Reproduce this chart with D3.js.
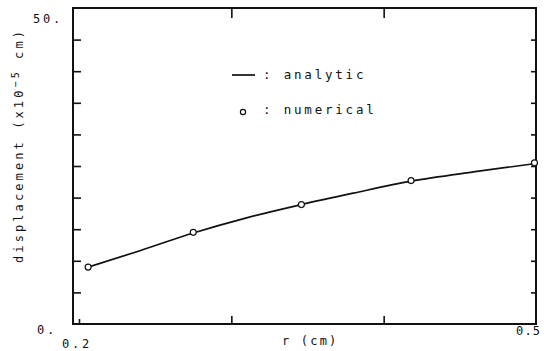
<!DOCTYPE html>
<html>
<head>
<meta charset="utf-8">
<script src="https://cdn.jsdelivr.net/npm/d3@7/dist/d3.min.js"></script>
<style>
  html, body { margin: 0; padding: 0; background: #fff; }
  svg { display: block; }
  text { font-family: "DejaVu Sans Mono", monospace; fill: #111; }
</style>
</head>
<body>
<svg id="chart" width="544" height="351"></svg>
<script>
// Radial displacement vs. radius: analytic solution (line) and numerical results (circles)
const analyticR = [0.206, 0.24, 0.275, 0.31, 0.346, 0.38, 0.418, 0.46, 0.5];
const analyticD = [9.0, 11.6, 14.4, 16.8, 18.9, 20.7, 22.6, 24.1, 25.4];

const numericalR = [0.206, 0.275, 0.346, 0.418, 0.499];
const numericalD = [9.0, 14.5, 18.9, 22.7, 25.5];

const yTicks = [5, 10, 15, 20, 25, 30, 35, 40, 45];
const xTicks = [0.3, 0.4];
const yTickLabels = [{ v: 50, t: "50." }, { v: 0, t: "0." }];
const xTickLabels = [{ v: 0.2, t: "0.2" }, { v: 0.5, t: "0.5" }];

const frame = { left: 73, right: 536, top: 8, bottom: 324 };

const svg = d3.select("#chart");

const x = d3.scaleLinear().domain([0.2, 0.5]).range([frame.left + 6, frame.right]);
const y = d3.scaleLinear().domain([0, 50]).range([frame.bottom, frame.top]);

const ink = "#111";

// inward ticks on all four sides
svg.append("g").attr("transform", `translate(${frame.left},0)`)
  .call(d3.axisRight(y).tickValues(yTicks).tickSize(8).tickFormat(""));
svg.append("g").attr("transform", `translate(${frame.right},0)`)
  .call(d3.axisLeft(y).tickValues(yTicks).tickSize(5).tickFormat(""));
svg.append("g").attr("transform", `translate(0,${frame.bottom})`)
  .call(d3.axisTop(x).tickValues(xTicks).tickSize(8).tickFormat(""));
svg.append("g").attr("transform", `translate(0,${frame.top})`)
  .call(d3.axisBottom(x).tickValues(xTicks).tickSize(10).tickFormat(""));
svg.append("g").attr("transform", `translate(0,${frame.bottom})`)
  .call(d3.axisTop(x).tickValues([0.2]).tickSize(5).tickFormat(""));
svg.selectAll("g .domain").remove();
svg.selectAll("g .tick line").attr("stroke", ink).attr("stroke-width", 1.6);

// frame
svg.append("rect")
  .attr("x", frame.left).attr("y", frame.top)
  .attr("width", frame.right - frame.left).attr("height", frame.bottom - frame.top)
  .attr("fill", "none").attr("stroke", ink).attr("stroke-width", 2);

// analytic curve
const line = d3.line()
  .x(d => x(d[0])).y(d => y(d[1]))
  .curve(d3.curveMonotoneX);
svg.append("path")
  .datum(analyticR.map((r, i) => [r, analyticD[i]]))
  .attr("d", line)
  .attr("fill", "none").attr("stroke", ink).attr("stroke-width", 1.7);

// numerical points
svg.selectAll("circle.num")
  .data(numericalR.map((r, i) => [r, numericalD[i]]))
  .join("circle").attr("class", "num")
  .attr("cx", d => x(d[0])).attr("cy", d => y(d[1])).attr("r", 3)
  .attr("fill", "#fff").attr("stroke", ink).attr("stroke-width", 1.2);

// axis labels
const ls = 2.8;
svg.selectAll("text.ylab").data(yTickLabels).join("text").attr("class", "ylab")
  .attr("x", d => d.v === 50 ? 33 : 37).attr("y", d => y(d.v) + (d.v === 50 ? 15 : 10))
  .attr("font-size", 12).attr("letter-spacing", ls).text(d => d.t);

svg.selectAll("text.xlab").data(xTickLabels).join("text").attr("class", "xlab")
  .attr("x", d => d.v === 0.2 ? 62 : 516).attr("y", d => d.v === 0.2 ? 348 : 335)
  .attr("font-size", 12).attr("letter-spacing", d => d.v === 0.2 ? ls : 1.2).text(d => d.t);

svg.append("text").attr("x", 282).attr("y", 345)
  .attr("font-size", 12).attr("letter-spacing", 2.2).text("r (cm)");

const yTitle = svg.append("text")
  .attr("transform", "translate(23,263) rotate(-90)")
  .attr("font-size", 12).attr("letter-spacing", 3.1);
yTitle.append("tspan").text("displacement (x10");
yTitle.append("tspan").attr("dy", -4).attr("font-size", 10).text("−5");
yTitle.append("tspan").attr("dy", 4).text(" cm)");

// legend
svg.append("line").attr("x1", 232).attr("x2", 255).attr("y1", 75).attr("y2", 75)
  .attr("stroke", ink).attr("stroke-width", 1.7);
svg.append("text").attr("x", 263).attr("y", 79)
  .attr("font-size", 12.5).attr("letter-spacing", ls).text(": analytic");
svg.append("circle").attr("cx", 243).attr("cy", 112).attr("r", 2.6)
  .attr("fill", "#fff").attr("stroke", ink).attr("stroke-width", 1.2);
svg.append("text").attr("x", 263).attr("y", 114)
  .attr("font-size", 12.5).attr("letter-spacing", ls).text(": numerical");
</script>
</body>
</html>
